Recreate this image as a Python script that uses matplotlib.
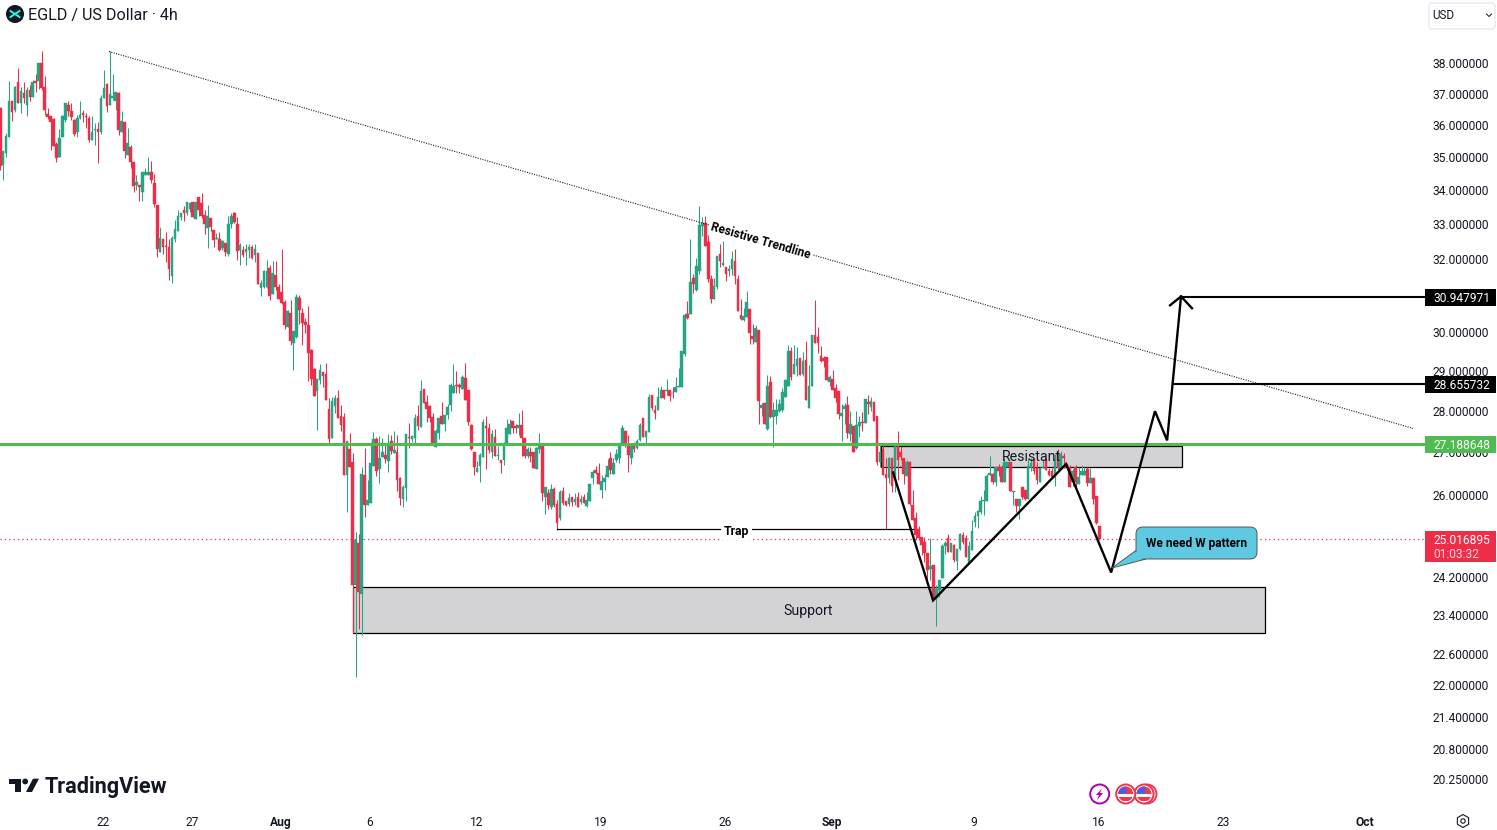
# -*- coding: utf-8 -*-
import matplotlib
matplotlib.use('Agg')
import matplotlib.pyplot as plt
from matplotlib.patches import Circle, FancyBboxPatch, Polygon, Rectangle, RegularPolygon
from matplotlib.ticker import FixedLocator, NullLocator, FixedFormatter
from matplotlib.transforms import ScaledTranslation

plt.rcParams['font.family'] = ['Roboto', 'DejaVu Sans']

# 4h candles, prices in USD
opens = [
    36.54, 34.75, 35.13, 35.61, 36.78, 36.47, 37.37, 36.71, 37.01, 36.65,
    37.11, 36.88, 37.41, 37.41, 38.0, 37.21, 36.34, 36.28, 36.18, 35.40,
    34.99, 35.61, 36.15, 36.63, 36.43, 36.15, 35.77, 36.21, 36.37, 36.28,
    36.21, 35.52, 35.83, 35.87, 35.77, 36.85, 37.31, 36.65, 36.85, 36.78,
    37.01, 35.77, 36.09, 35.06, 35.30, 34.84, 34.14, 34.14, 33.93, 34.44,
    34.44, 34.53, 34.20, 33.54, 32.19, 32.56, 32.36, 32.33, 31.52, 32.56,
    32.79, 33.21, 33.41, 33.32, 33.44, 33.65, 33.15, 33.79, 33.62, 33.26,
    32.89, 33.18, 32.83, 32.57, 32.57, 32.31, 32.45, 32.14, 33.0, 33.32,
    33.0, 32.25, 32.25, 32.19, 32.25, 32.34, 32.11, 32.17, 31.2, 31.22,
    31.23, 31.75, 31.03, 31.55, 31.22, 31.09, 30.82, 30.14, 30.52, 29.72,
    29.87, 30.92, 30.52, 30.28, 30.2, 29.54, 29.05, 28.5, 28.77, 28.98,
    28.93, 28.05, 27.34, 28.12, 28.32, 27.86, 27.84, 26.47, 27.07, 26.76,
    24.03, 24.93, 23.84, 26.47, 25.78, 25.83, 26.68, 27.31, 26.61, 26.88,
    26.93, 26.79, 27.27, 26.98, 27.0, 26.39, 25.91, 26.16, 27.36, 27.31,
    27.34, 27.87, 27.6, 28.54, 28.22, 28.12, 27.84, 27.12, 27.46, 27.87,
    27.67, 27.89, 28.14, 28.44, 28.64, 28.64, 28.54, 28.81, 28.51, 27.65,
    27.0, 26.54, 26.68, 26.88, 27.62, 27.57, 27.0, 27.36, 26.91, 26.82,
    26.82, 27.17, 27.44, 27.74, 27.62, 27.57, 27.65, 27.34, 26.91, 27.0,
    27.0, 26.61, 27.07, 27.17, 25.95, 26.05, 25.73, 26.14, 25.8, 25.48,
    26.1, 25.87, 25.8, 25.96, 25.84, 25.96, 25.84, 25.96, 25.75, 25.87,
    26.4, 26.58, 26.51, 26.12, 26.31, 26.42, 26.87, 26.49, 26.82, 26.87,
    27.19, 27.5, 27.19, 26.85, 27.17, 27.1, 27.29, 27.82, 27.36, 27.48,
    28.39, 28.01, 28.03, 28.31, 28.51, 28.49, 28.51, 28.44, 28.46, 28.59,
    28.59, 29.43, 30.49, 30.49, 31.46, 31.13, 31.65, 32.93, 33.02, 32.47,
    31.43, 30.89, 31.22, 32.15, 31.82, 31.76, 31.65, 31.71, 31.93, 31.43,
    30.46, 30.33, 30.4, 30.61, 29.9, 29.74, 30.06, 28.07, 28.19, 27.55,
    28.71, 27.84, 27.87, 27.99, 28.02, 28.34, 28.61, 29.51, 28.92, 29.12,
    29.33, 28.92, 29.28, 28.07, 28.61, 29.92, 29.87, 29.38, 29.33, 29.35,
    28.71, 28.79, 28.56, 28.49, 27.87, 28.04, 28.14, 27.44, 27.63, 27.09,
    27.63, 27.72, 27.7, 28.21, 28.09, 28.21, 27.87, 26.76, 27.07, 26.48,
    26.39, 26.85, 26.35, 27.19, 27.0, 26.85, 26.44, 26.76, 25.77, 25.48,
    25.23, 25.06, 24.95, 24.7, 24.36, 24.44, 23.74, 23.91, 24.17, 24.86,
    25.03, 24.74, 24.88, 24.53, 24.79, 25.1, 25.03, 24.49, 24.77, 25.39,
    25.53, 25.62, 25.87, 25.87, 26.46, 26.48, 26.3, 26.65, 26.65, 26.3,
    26.65, 26.76, 26.07, 25.91, 25.75, 26.18, 26.11, 25.91, 26.62, 26.83,
    26.62, 26.3, 26.62, 26.81, 26.55, 26.55, 26.39, 26.97, 26.6, 26.9,
    26.71, 26.65, 26.3, 26.65, 26.25, 26.46, 26.46, 26.6, 26.27, 26.39, 25.98, 25.3]
closes = [
    34.72, 35.18, 35.65, 36.78, 36.40, 37.21, 36.71, 37.08, 36.85, 37.11,
    36.88, 37.37, 37.34, 38.0, 37.18, 36.47, 36.25, 36.09, 35.33, 34.96,
    35.58, 36.28, 36.69, 36.43, 36.25, 35.71, 36.21, 36.31, 36.31, 36.25,
    35.52, 35.77, 35.87, 35.77, 36.85, 37.18, 36.59, 36.98, 36.91, 37.04,
    35.83, 36.12, 35.18, 35.43, 34.84, 34.11, 34.23, 34.08, 34.53, 34.53,
    34.53, 34.29, 33.57, 32.27, 32.59, 32.34, 32.33, 31.71, 32.59, 32.85,
    33.22, 33.32, 33.32, 33.65, 33.62, 33.21, 33.65, 33.41, 33.24, 33.0,
    33.24, 32.91, 32.54, 32.60, 32.25, 32.51, 32.19, 33.0, 33.24, 33.06,
    32.22, 32.39, 32.11, 32.28, 32.34, 32.02, 32.28, 31.31, 31.33, 31.66,
    31.66, 30.98, 31.61, 31.22, 30.9, 30.79, 30.2, 30.57, 29.78, 30.03,
    30.95, 30.6, 30.25, 30.2, 29.47, 28.8, 28.37, 28.8, 29.03, 28.88,
    28.27, 27.32, 28.25, 28.32, 27.83, 27.66, 26.47, 27.27, 26.66, 24.03,
    25.0, 23.88, 26.49, 25.78, 25.89, 26.75, 27.31, 26.56, 26.86, 27.0,
    26.84, 27.22, 27.03, 27.05, 26.35, 25.93, 26.19, 27.44, 27.34, 27.39,
    27.82, 27.62, 28.49, 28.19, 28.04, 27.82, 27.17, 27.51, 27.82, 27.67,
    27.89, 28.09, 28.64, 28.61, 28.61, 28.59, 28.84, 28.27, 27.72, 27.07,
    26.65, 26.63, 26.93, 27.72, 27.57, 27.05, 27.44, 26.91, 26.93, 26.75,
    27.19, 27.57, 27.67, 27.57, 27.57, 27.65, 27.34, 26.91, 27.07, 26.91,
    26.63, 27.1, 27.17, 26.05, 26.19, 25.78, 26.14, 25.77, 25.37, 26.07,
    25.82, 25.77, 25.94, 25.84, 25.91, 25.73, 25.91, 25.82, 25.89, 26.26,
    26.54, 26.51, 26.26, 26.33, 26.4, 26.68, 26.58, 26.75, 26.96, 27.22,
    27.58, 27.19, 26.94, 27.17, 27.08, 27.26, 27.65, 27.36, 27.5, 28.34,
    28.06, 27.94, 28.34, 28.51, 28.31, 28.51, 28.36, 28.43, 28.59, 28.61,
    29.51, 30.46, 30.38, 31.35, 31.3, 31.79, 32.96, 33.02, 32.36, 31.43,
    30.89, 31.24, 32.07, 31.93, 31.87, 31.57, 31.71, 31.99, 31.51, 30.56,
    30.35, 30.43, 30.8, 29.98, 29.82, 30.11, 28.24, 28.14, 27.67, 28.61,
    27.84, 28.02, 28.02, 28.17, 28.46, 28.77, 29.51, 28.84, 29.17, 29.3,
    28.89, 29.25, 28.26, 28.61, 29.92, 29.71, 29.71, 29.25, 29.25, 28.77,
    28.84, 28.51, 28.31, 27.92, 27.94, 28.12, 27.46, 27.67, 27.0, 27.65,
    27.72, 27.7, 28.28, 28.16, 28.24, 27.74, 26.76, 27.0, 26.46, 26.39,
    26.85, 26.2, 27.14, 26.81, 26.88, 26.48, 26.76, 25.79, 25.44, 25.1,
    25.03, 24.88, 24.7, 24.34, 24.42, 23.78, 23.93, 24.12, 24.86, 24.93,
    24.74, 24.93, 24.55, 24.79, 25.12, 24.95, 24.62, 24.86, 25.19, 25.53,
    25.64, 25.87, 25.89, 26.44, 26.51, 26.3, 26.65, 26.55, 26.3, 26.76,
    26.76, 26.09, 26.09, 25.75, 25.91, 25.95, 25.91, 26.67, 26.74, 26.55,
    26.35, 26.62, 26.65, 26.58, 26.46, 26.41, 26.83, 26.62, 26.95, 26.85,
    26.62, 26.18, 26.55, 26.3, 26.41, 26.55, 26.55, 26.27, 26.39, 25.91, 25.36, 25.017]
highs = [
    36.57, 35.18, 35.74, 37.41, 36.78, 37.24, 37.84, 37.21, 37.37, 37.21,
    37.28, 37.44, 37.64, 38.0, 38.41, 37.57, 36.53, 36.28, 36.21, 35.46,
    35.86, 36.31, 36.69, 36.75, 36.69, 36.18, 36.31, 36.75, 36.47, 36.37,
    36.28, 36.28, 36.06, 36.09, 36.97, 37.77, 37.34, 38.41, 37.64, 37.04,
    37.04, 36.43, 36.09, 35.90, 35.37, 34.84, 34.44, 34.14, 34.53, 34.65,
    35.0, 34.87, 34.47, 33.54, 32.90, 32.56, 32.76, 32.56, 32.65, 33.11,
    33.39, 33.32, 33.53, 33.65, 33.62, 33.65, 33.65, 33.79, 33.91, 33.41,
    33.56, 33.18, 32.83, 32.74, 32.77, 32.54, 32.45, 33.24, 33.32, 33.35,
    33.21, 32.45, 32.37, 32.42, 32.42, 32.39, 32.42, 32.17, 31.42, 31.69,
    31.97, 31.83, 31.94, 31.94, 31.3, 32.28, 30.87, 30.6, 30.87, 30.03,
    31.03, 31.0, 30.66, 30.38, 30.69, 29.57, 29.08, 28.8, 29.18, 28.98,
    29.21, 28.32, 28.35, 28.4, 28.52, 28.15, 27.94, 27.27, 27.46, 26.98,
    25.17, 25.13, 26.66, 27.1, 26.35, 27.24, 27.48, 27.36, 27.39, 27.34,
    27.22, 27.44, 27.41, 27.51, 27.41, 26.42, 26.23, 27.44, 27.7, 27.39,
    27.92, 28.14, 28.76, 28.54, 28.39, 28.14, 27.94, 27.56, 27.82, 28.22,
    27.89, 28.17, 28.69, 29.17, 29.0, 28.69, 28.89, 29.2, 28.51, 27.67,
    27.0, 26.79, 26.98, 27.79, 27.87, 27.7, 27.53, 27.56, 27.15, 26.82,
    27.24, 27.79, 27.79, 27.74, 27.67, 27.94, 28.02, 27.34, 27.12, 27.12,
    27.0, 27.12, 27.46, 27.19, 26.19, 26.14, 26.26, 26.19, 25.89, 26.12,
    26.19, 25.87, 26.05, 25.96, 26.05, 26.07, 26.01, 26.03, 26.07, 26.26,
    26.58, 26.68, 26.75, 26.47, 26.49, 26.84, 27.01, 26.87, 27.08, 27.22,
    27.65, 27.5, 27.41, 27.17, 27.24, 27.31, 27.7, 27.82, 27.5, 28.41,
    28.39, 28.13, 28.59, 28.61, 28.51, 28.79, 28.51, 28.59, 28.85, 29.07,
    29.51, 30.51, 30.83, 32.56, 31.59, 32.02, 33.51, 33.2, 33.23, 32.67,
    31.56, 31.46, 32.07, 32.41, 32.5, 31.76, 31.82, 32.22, 32.27, 31.56,
    30.89, 30.65, 31.11, 30.61, 30.21, 30.19, 30.06, 28.19, 28.19, 28.89,
    28.86, 28.21, 28.28, 28.28, 28.56, 28.79, 29.66, 29.61, 29.66, 29.61,
    29.33, 29.48, 29.77, 29.14, 29.92, 30.86, 30.13, 29.64, 29.38, 29.35,
    28.89, 29.02, 28.66, 28.49, 28.17, 28.19, 28.36, 27.99, 27.63, 27.99,
    27.87, 27.97, 28.28, 28.38, 28.34, 28.21, 27.87, 27.19, 27.19, 26.85,
    26.88, 26.85, 27.14, 27.5, 27.14, 26.85, 26.81, 26.79, 26.11, 25.62,
    25.3, 25.06, 25.06, 24.7, 25.03, 24.44, 24.03, 24.12, 24.9, 24.97,
    25.12, 24.93, 24.9, 24.79, 25.14, 25.16, 25.1, 24.97, 25.44, 25.62,
    25.66, 25.98, 26.11, 26.48, 26.9, 26.51, 26.65, 26.71, 26.69, 26.85,
    26.76, 26.76, 26.09, 25.91, 25.91, 26.18, 26.11, 26.85, 26.85, 26.83,
    26.76, 26.65, 26.83, 26.85, 26.62, 26.62, 26.95, 27.07, 27.02, 26.97,
    26.73, 26.69, 26.6, 26.69, 26.65, 26.69, 26.65, 26.65, 26.62, 26.39, 25.98, 25.3]
lows = [
    34.59, 34.29, 35.0, 35.61, 36.12, 36.40, 36.71, 36.37, 36.71, 36.28,
    36.75, 36.88, 37.04, 37.14, 37.11, 36.31, 36.18, 35.21, 35.33, 34.84,
    34.99, 35.61, 36.09, 36.28, 36.15, 35.65, 35.61, 36.18, 36.09, 35.90,
    35.46, 35.52, 35.37, 34.81, 35.71, 36.85, 36.40, 36.65, 36.81, 36.47,
    35.68, 35.77, 34.96, 35.06, 34.65, 33.93, 33.99, 33.66, 33.66, 34.44,
    34.44, 34.20, 33.48, 32.05, 32.19, 32.14, 31.91, 31.41, 31.32, 32.47,
    32.79, 33.12, 33.09, 33.26, 33.35, 33.21, 33.15, 33.24, 33.18, 32.71,
    32.31, 32.80, 32.34, 32.57, 32.22, 32.25, 32.08, 32.08, 32.89, 33.03,
    31.97, 31.83, 32.05, 31.83, 32.02, 32.0, 31.91, 31.31, 30.98, 31.2,
    31.19, 30.87, 31.03, 31.14, 30.9, 30.76, 30.09, 30.14, 29.67, 29.03,
    29.85, 30.22, 29.67, 29.99, 28.75, 28.65, 28.37, 27.54, 28.67, 28.6,
    28.27, 27.22, 27.34, 27.95, 27.83, 27.51, 26.47, 25.62, 26.66, 23.04,
    22.15, 23.12, 23.0, 25.5, 25.78, 25.83, 26.68, 26.45, 26.28, 26.88,
    26.75, 26.54, 26.96, 26.98, 26.1, 25.78, 25.73, 25.87, 27.1, 27.24,
    27.22, 27.53, 27.6, 28.19, 27.72, 27.72, 27.17, 27.12, 27.31, 27.67,
    27.51, 27.79, 27.99, 28.44, 28.44, 28.44, 28.54, 28.27, 27.65, 27.05,
    26.47, 26.54, 26.3, 26.88, 26.61, 26.98, 26.86, 26.91, 26.82, 26.52,
    26.7, 27.17, 27.44, 27.46, 27.46, 27.41, 26.91, 26.86, 26.86, 26.76,
    26.63, 26.61, 26.98, 25.87, 25.57, 25.69, 25.68, 25.73, 25.21, 25.44,
    25.77, 25.75, 25.75, 25.75, 25.77, 25.73, 25.8, 25.82, 25.73, 25.87,
    26.26, 26.49, 26.26, 25.94, 26.12, 26.42, 26.49, 26.49, 26.77, 26.75,
    27.17, 27.13, 26.54, 26.72, 27.0, 27.08, 27.26, 27.36, 27.17, 27.48,
    28.03, 27.8, 28.03, 28.31, 28.29, 28.39, 28.24, 28.31, 28.46, 28.59,
    28.59, 29.38, 30.35, 30.49, 31.05, 31.11, 31.59, 32.64, 32.36, 31.35,
    30.78, 30.89, 31.16, 31.76, 31.79, 31.37, 31.51, 31.54, 31.3, 30.56,
    30.33, 30.3, 30.4, 29.69, 29.69, 29.74, 27.67, 27.86, 27.67, 27.53,
    27.82, 27.12, 27.67, 27.97, 27.97, 28.34, 28.61, 28.77, 28.92, 28.87,
    28.89, 28.87, 28.26, 28.07, 28.61, 29.71, 29.46, 29.22, 29.1, 28.77,
    28.61, 28.51, 28.21, 27.79, 27.27, 27.67, 27.34, 27.27, 27.0, 27.07,
    27.36, 27.5, 27.7, 27.92, 27.99, 27.74, 26.69, 26.65, 26.46, 25.23,
    26.27, 26.07, 26.07, 26.35, 26.81, 26.25, 26.44, 25.77, 25.44, 24.99,
    24.99, 24.66, 24.51, 24.12, 24.12, 23.7, 23.17, 23.78, 24.17, 24.68,
    24.74, 24.72, 24.51, 24.34, 24.77, 24.9, 24.62, 24.47, 24.77, 25.28,
    25.25, 25.57, 25.55, 25.87, 26.46, 26.25, 26.2, 26.44, 26.3, 26.3,
    26.65, 26.09, 25.77, 25.62, 25.46, 25.91, 25.88, 25.91, 26.55, 26.48,
    26.25, 26.3, 26.62, 26.58, 26.44, 26.39, 26.2, 26.58, 26.6, 26.62,
    26.62, 26.18, 26.2, 26.18, 26.25, 26.46, 26.46, 26.2, 26.27, 25.79, 25.34, 25.0]

# axis labels
price_ticks = [38, 37, 36, 35, 34, 33, 32, 30, 29, 28, 27, 26, 24.2, 23.4, 22.6, 22, 21.4, 20.8, 20.25]
date_ticks = [35, 65, 95, 125, 161, 203, 245, 281, 329, 371, 413, 461]
date_labels = ['22', '27', 'Aug', '6', '12', '19', '26', 'Sep', '9', '16', '23', 'Oct']
bold_labels = ['Aug', 'Sep', 'Oct']

# price levels shown on the scale
last_price = 25.016895
level_green = 27.188648
level_first = 28.655732
level_second = 30.947971

# drawings, in candle number and price
trend_x = [36.7, 476.9]
trend_y = [38.40, 27.57]
wave_x = [301.4, 314.9, 359.8, 375.0, 389.8, 393.9, 398.6]
wave_y = [26.52, 23.70, 26.72, 24.29, 27.99, 27.28, 30.96]
head_x = [394.9, 398.6, 402.3]
head_y = [30.72, 30.96, 30.64]
support_box = [119.1, 426.9, 23.04, 23.99]
resist_box = [297.3, 398.9, 26.64, 27.14]
trap_x = [187.9, 308.1]
trap_y = 25.23

GREEN = '#26a483'
RED = '#ee2e48'
INK = '#131722'
BOX = '#d3d3d6'
X_RIGHT = 480.95

fig = plt.figure(figsize=(14.97, 8.30), dpi=100, facecolor='white')
ax = fig.add_axes([0, 24.5 / 830, 1425 / 1497, 805 / 830])
ax.set_yscale('log')
ax.set_xlim(-0.07, X_RIGHT)
ax.set_ylim(19.79, 40.16)
for s in ax.spines.values():
    s.set_visible(False)

# boxes under the candles
for b in (support_box, resist_box):
    ax.add_patch(Rectangle((b[0], b[2]), b[1] - b[0], b[3] - b[2], facecolor=BOX,
                           edgecolor='black', linewidth=0.9, zorder=1))

ax.axhline(last_price, color=RED, linestyle=(0, (1, 2.5)), linewidth=0.9, zorder=1.5)

# candles
x = list(range(len(closes)))
colors = [GREEN if c >= o else RED for o, c in zip(opens, closes)]
body_low = [min(o, c) for o, c in zip(opens, closes)]
body_size = [abs(c - o) for o, c in zip(opens, closes)]
ax.vlines(x, lows, highs, colors=colors, linewidth=0.75, zorder=2)
ax.bar(x, body_size, bottom=body_low, width=0.88, color=colors, edgecolor=colors,
       linewidth=0.3, zorder=2.1)

ax.axhline(level_green, color='#4fbb50', linewidth=2.2, zorder=3)

# drawings
ax.plot(trend_x, trend_y, color='#222222', linestyle=(0, (1, 1.2)), linewidth=0.8, zorder=3)
ax.plot(trap_x, [trap_y, trap_y], color='black', linewidth=0.9, zorder=3)
ax.plot(wave_x, wave_y, color='black', linewidth=1.7, zorder=4, solid_joinstyle='miter')
ax.plot(head_x, head_y, color='black', linewidth=1.7, zorder=4)
ax.plot([wave_x[-1], X_RIGHT], [level_second, level_second], color='black', linewidth=1.5, zorder=4)
ax.plot([395.8, X_RIGHT], [level_first, level_first], color='black', linewidth=1.5, zorder=4)

ax.text(256.8, 32.52, 'Resistive Trendline', rotation=-16.1, rotation_mode='anchor', ha='center',
        va='center', fontsize=8.6, fontweight='bold', color='black', zorder=5,
        bbox=dict(facecolor='white', edgecolor='none', pad=1.5))
ax.text(248.4, 25.19, 'Trap', ha='center', va='center', fontsize=8.8, fontweight='bold',
        color='black', zorder=5, bbox=dict(facecolor='white', edgecolor='none', pad=2))
ax.text(272.9, 23.49, 'Support', ha='center', va='center', fontsize=10.2, color=INK, zorder=5)
ax.text(348.0, 26.88, 'Resistant', ha='center', va='center', fontsize=10.2, color=INK, zorder=5)

# scales
ax.yaxis.tick_right()
ax.yaxis.set_major_locator(FixedLocator(price_ticks))
ax.yaxis.set_major_formatter(FixedFormatter(['%.6f' % p for p in price_ticks]))
ax.yaxis.set_minor_locator(NullLocator())
ax.xaxis.set_major_locator(FixedLocator(date_ticks))
ax.xaxis.set_major_formatter(FixedFormatter(date_labels))
ax.tick_params(axis='y', length=0, pad=5.2, labelsize=8.65, labelcolor=INK)
ax.tick_params(axis='x', length=0, pad=7.4, labelsize=8.65, labelcolor=INK)
nudge = ScaledTranslation(-0.8 / 100, 0, fig.dpi_scale_trans)
for lab in ax.get_xticklabels():
    lab.set_transform(lab.get_transform() + nudge)
    if lab.get_text() in bold_labels:
        lab.set_fontweight('bold')

# page furniture, in pixels of the image
ov = fig.add_axes([0, 0, 1, 1])
ov.set_xlim(0, 1497)
ov.set_ylim(830, 0)
ov.axis('off')
ov.patch.set_alpha(0)


def price_y(price):
    return 830 - ax.transData.transform((0, price))[1]


def price_tag(price, lines, color, height=17):
    y = price_y(price) + 0.5
    ov.add_patch(Rectangle((1425, y - 8.5), 71, height, facecolor=color, edgecolor='none'))
    ov.text(1433, y + 0.8, lines[0], ha='left', va='center', fontsize=8.65, color='white')
    if len(lines) > 1:
        ov.text(1433, y + 14.8, lines[1], ha='left', va='center', fontsize=8.65, color='#ffd6dc')


price_tag(level_second, ['%.6f' % level_second], 'black')
price_tag(level_first, ['%.6f' % level_first], 'black')
price_tag(level_green, ['%.6f' % level_green], '#4fbb50')
price_tag(last_price, ['%.6f' % last_price, '01:03:32'], RED, height=31)

# callout
ov.add_patch(Polygon([(1138, 549), (1112, 568), (1146, 559)], closed=True, facecolor='#5fc9e3',
                     edgecolor='#555555', linewidth=0.7))
ov.add_patch(FancyBboxPatch((1141, 532), 111, 22, boxstyle='round,pad=5,rounding_size=7',
                            facecolor='#5fc9e3', edgecolor='#555555', linewidth=0.7))
ov.add_patch(Polygon([(1139, 550), (1114, 567), (1146, 557.5)], closed=True, facecolor='#5fc9e3',
                     edgecolor='none'))
ov.text(1197, 543, 'We need W pattern', ha='center', va='center', fontsize=8.6,
        fontweight='bold', color='black')

# header
ov.add_patch(Circle((15, 14), 9, facecolor=INK, edgecolor='none'))
ov.plot([10.5, 19.5], [11, 17], color='#23f7dd', linewidth=1.4)
ov.plot([10.5, 19.5], [17, 11], color='#23f7dd', linewidth=1.4)
ov.text(28, 15.2, 'EGLD / US Dollar \u00b7 4h', ha='left', va='center', fontsize=11.6, color=INK)
ov.add_patch(FancyBboxPatch((1431, 5), 62, 22, boxstyle='round,pad=2,rounding_size=3',
                            facecolor='white', edgecolor='#e0e3eb', linewidth=0.8))
ov.text(1432, 15.5, 'USD', ha='left', va='center', fontsize=8.4, color=INK)
ov.plot([1486.5, 1489, 1491.5], [14, 16.5, 14], color=INK, linewidth=0.7)

# TradingView mark
ov.add_patch(Polygon([(9, 778.7), (21, 778.7), (21, 792), (15, 792), (15, 784), (9, 784)],
                     closed=True, facecolor=INK, edgecolor='none'))
ov.add_patch(Circle((25.2, 781.5), 2.9, facecolor=INK, edgecolor='none'))
ov.add_patch(Polygon([(33, 778.7), (39, 778.7), (32, 792), (26, 792)], closed=True,
                     facecolor=INK, edgecolor='none'))
ov.text(45, 787, 'TradingView', ha='left', va='center', fontsize=15.6, fontweight='bold', color=INK)

# event icons
ov.add_patch(Circle((1099.7, 794), 9.5, facecolor='white', edgecolor='#a800b8', linewidth=1.4))
ov.add_patch(Polygon([(1102, 788.5), (1096, 795), (1099, 795), (1097, 800), (1103, 793), (1100, 793)],
                     closed=True, facecolor='#a800b8', edgecolor='none'))


def flag_icon(cx):
    ring = Circle((cx, 794), 9.5, facecolor='white', edgecolor='#f0354f', linewidth=1.4)
    ov.add_patch(ring)
    clip = Circle((cx, 794), 7.5, transform=ov.transData)
    for top, h, col in [(786, 8, '#f0354f'), (797, 4, '#f0354f')]:
        r = Rectangle((cx - 8, top), 16, h, facecolor=col, edgecolor='none')
        ov.add_patch(r)
        r.set_clip_path(clip)
    b = Rectangle((cx - 8, 786), 8.5, 8, facecolor='#4a5fe0', edgecolor='none')
    ov.add_patch(b)
    b.set_clip_path(clip)


flag_icon(1147)
flag_icon(1144)
flag_icon(1125.7)

# settings cog
ov.add_patch(RegularPolygon((1463, 821), 6, radius=6.5, facecolor='white', edgecolor=INK, linewidth=0.8))
ov.add_patch(Circle((1463, 821), 2.2, facecolor='white', edgecolor=INK, linewidth=0.8))

fig.savefig('out.png', dpi=100)
plt.close()
